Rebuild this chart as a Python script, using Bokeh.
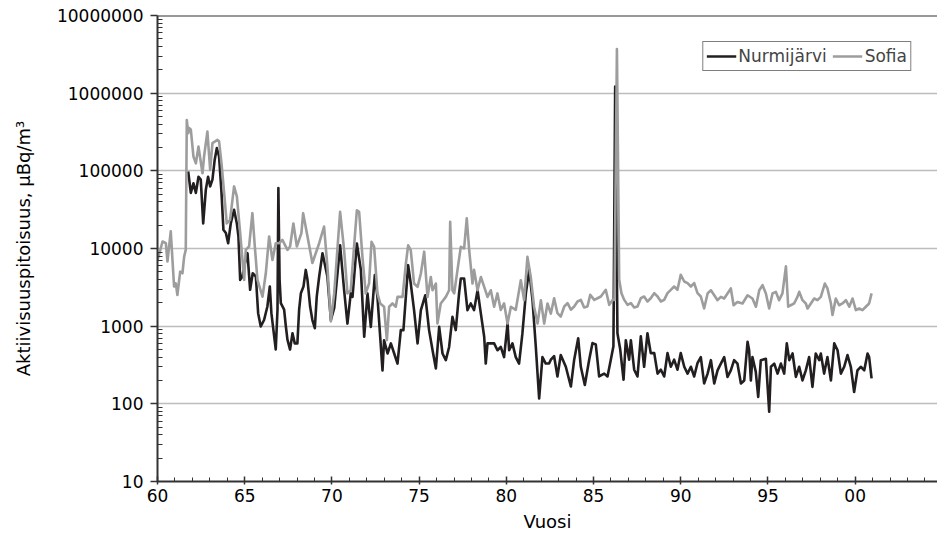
from bokeh.plotting import figure
from bokeh.models import Range1d, FixedTicker, Span, Legend, LegendItem, ColumnDataSource
from bokeh.embed import file_html
from bokeh.resources import INLINE

# ---- data (year as two-digit-based decimal year, activity in µBq/m³) ----
sofia_year = [60.0, 60.29, 60.48, 60.57, 60.76, 60.95, 61.05, 61.14, 61.30, 61.43, 61.53, 61.62, 61.68, 61.76,
              61.81, 61.91, 62.06, 62.20, 62.35, 62.58, 62.67, 62.86, 63.02, 63.15, 63.44, 63.53, 63.67, 63.82,
              63.97, 64.16, 64.39, 64.55, 64.74, 64.97, 65.06, 65.25, 65.44, 65.58, 65.73, 66.02, 66.21, 66.40,
              66.59, 66.78, 66.97, 67.16, 67.45, 67.60, 67.79, 67.99, 68.25, 68.35, 68.60, 68.88, 69.27, 69.55,
              69.74, 69.94, 70.13, 70.47, 70.70, 70.89, 71.08, 71.18, 71.43, 71.56, 71.75, 71.94, 72.13, 72.27,
              72.42, 72.61, 72.77, 72.99, 73.15, 73.28, 73.47, 73.66, 73.76, 74.05, 74.24, 74.37, 74.52, 74.71,
              74.91, 75.10, 75.29, 75.48, 75.67, 75.77, 75.96, 76.05, 76.24, 76.53, 76.72, 76.78, 76.91, 77.01,
              77.20, 77.39, 77.58, 77.73, 77.87, 78.06, 78.15, 78.35, 78.54, 78.73, 78.92, 79.11, 79.30, 79.49,
              79.68, 79.87, 80.07, 80.26, 80.54, 80.83, 81.02, 81.21, 81.40, 81.59, 81.79, 81.98, 82.17, 82.36,
              82.55, 82.74, 82.93, 83.12, 83.32, 83.51, 83.70, 83.89, 84.08, 84.27, 84.46, 84.65, 84.81, 85.04,
              85.23, 85.42, 85.70, 85.90, 86.09, 86.20, 86.34, 86.47, 86.60, 86.76, 86.95, 87.14, 87.33, 87.52,
              87.71, 87.90, 88.09, 88.28, 88.48, 88.67, 88.86, 89.05, 89.24, 89.43, 89.62, 89.81, 90.00, 90.20,
              90.39, 90.58, 90.77, 90.96, 91.15, 91.34, 91.54, 91.73, 91.92, 92.11, 92.30, 92.49, 92.68, 92.87,
              93.03, 93.25, 93.54, 93.83, 94.11, 94.31, 94.50, 94.69, 94.88, 95.07, 95.26, 95.45, 95.64, 95.83,
              96.03, 96.16, 96.31, 96.50, 96.69, 96.79, 96.98, 97.17, 97.27, 97.46, 97.65, 97.84, 98.03, 98.26,
              98.41, 98.61, 98.70, 98.89, 99.08, 99.27, 99.47, 99.66, 99.85, 100.04, 100.23, 100.42, 100.61,
              100.80, 100.94]
sofia_value = [7100, 12300, 11700, 6800, 16600, 3240, 3550, 2520, 5030, 4800, 7900, 9600, 450000, 305000,
               355000, 340000, 153000, 125000, 205000, 93000, 153000, 320000, 103000, 227000, 250000, 240000,
               125000, 52000, 21000, 23400, 63000, 47000, 15800, 3950, 9600, 10600, 28500, 10600, 3950, 2400,
               4800, 14300, 7100, 11700, 11700, 12900, 9600, 10600, 21000, 10600, 15800, 28500, 14300, 6500,
               11700, 19200, 5900, 1150, 2640, 29700, 9500, 2640, 2900, 5800, 31000, 29700, 7800, 2640, 3540,
               12200, 10500, 2640, 1960, 1780, 660, 1780, 1960, 1780, 2380, 2380, 6400, 11000, 9500, 3540, 3200,
               4760, 9100, 2380, 4300, 2900, 3540, 1080, 1960, 2380, 2900, 22000, 2900, 2640, 5300, 10500, 10000,
               24500, 9500, 3540, 5300, 2900, 4300, 3200, 2380, 2900, 1780, 2640, 1620, 1960, 1080, 1780, 1620,
               3900, 2160, 7800, 4300, 1780, 1080, 2160, 1080, 1960, 1450, 2290, 1470, 1330, 1790, 1980, 1630,
               1790, 2080, 2180, 1740, 1790, 2530, 2180, 2290, 2410, 2940, 1880, 2180, 2180, 3700000, 3950, 2660,
               2180, 1880, 1980, 1740, 1790, 2290, 2410, 2080, 2290, 2660, 2410, 2080, 2180, 2660, 2940, 3240,
               2940, 4580, 3760, 3590, 3240, 3590, 2660, 2410, 1690, 2640, 2900, 2500, 2160, 2380, 2270, 2640,
               3060, 1860, 2050, 1960, 2500, 2270, 1780, 2900, 3370, 2640, 1690, 2640, 2770, 2160, 2640, 5900,
               1780, 1860, 1960, 2380, 2770, 2160, 1960, 1690, 1960, 2270, 2160, 2380, 3540, 3060, 1960, 1390,
               2270, 1860, 1960, 2160, 1780, 2270, 1610, 1690, 1610, 1780, 1960, 2640]

nurmi_year = [61.76, 61.91, 62.06, 62.20, 62.35, 62.48, 62.62, 62.77, 62.90, 63.02, 63.15, 63.28, 63.40, 63.53,
              63.67, 63.78, 63.92, 64.05, 64.20, 64.39, 64.55, 64.64, 64.74, 64.87, 64.97, 65.16, 65.31, 65.46,
              65.64, 65.77, 65.92, 66.11, 66.30, 66.44, 66.53, 66.78, 66.88, 66.93, 67.00, 67.07, 67.26, 67.36,
              67.45, 67.60, 67.74, 67.87, 68.02, 68.12, 68.22, 68.37, 68.50, 68.60, 68.75, 68.88, 69.02, 69.13,
              69.27, 69.46, 69.74, 69.94, 70.13, 70.47, 70.70, 70.89, 71.08, 71.18, 71.43, 71.66, 71.85, 72.04,
              72.23, 72.46, 72.61, 72.90, 72.99, 73.19, 73.38, 73.57, 73.76, 73.95, 74.10, 74.37, 74.52, 74.71,
              74.91, 75.10, 75.35, 75.57, 75.77, 75.96, 76.15, 76.34, 76.53, 76.72, 76.91, 77.10, 77.29, 77.39,
              77.58, 77.77, 77.96, 78.15, 78.35, 78.54, 78.73, 78.82, 78.92, 79.11, 79.30, 79.49, 79.68, 79.87,
              80.07, 80.16, 80.35, 80.54, 80.73, 80.92, 81.12, 81.31, 81.50, 81.69, 81.88, 82.07, 82.26, 82.45,
              82.55, 82.74, 82.93, 83.12, 83.41, 83.70, 83.89, 84.12, 84.27, 84.50, 84.75, 84.94, 85.13, 85.32,
              85.61, 85.80, 85.99, 86.14, 86.24, 86.37, 86.53, 86.72, 86.85, 87.04, 87.14, 87.33, 87.52, 87.71,
              87.90, 88.09, 88.28, 88.48, 88.67, 88.86, 89.05, 89.24, 89.43, 89.62, 89.81, 90.00, 90.20, 90.39,
              90.58, 90.77, 90.96, 91.15, 91.34, 91.54, 91.73, 91.92, 92.11, 92.30, 92.49, 92.68, 92.87, 93.06,
              93.25, 93.45, 93.64, 93.83, 93.92, 94.02, 94.11, 94.30, 94.44, 94.59, 94.88, 95.07, 95.17, 95.36,
              95.55, 95.74, 95.93, 96.08, 96.22, 96.41, 96.60, 96.79, 96.98, 97.17, 97.36, 97.55, 97.74, 97.94,
              98.03, 98.22, 98.41, 98.61, 98.80, 98.99, 99.18, 99.37, 99.56, 99.75, 99.94, 100.13, 100.32,
              100.52, 100.71, 100.80, 100.94]
nurmi_value = [98000, 52000, 69000, 52000, 84000, 77000, 21000, 57000, 84000, 63000, 77000, 139000, 196000,
               153000, 52000, 17400, 15800, 11700, 21000, 31500, 21000, 14300, 3950, 4360, 5900, 8700, 2940,
               4800, 4360, 1470, 990, 1200, 1790, 3240, 1470, 500, 1630, 60000, 3950, 1980, 1630, 990, 670, 500,
               810, 600, 600, 1630, 2660, 3240, 5300, 3950, 1790, 1200, 940, 2400, 4360, 8700, 4360, 1200, 1700,
               11000, 2900, 1080, 2640, 2380, 11600, 5300, 730, 2640, 980, 4540, 2380, 270, 660, 445, 600, 445,
               330, 890, 890, 6100, 3540, 1610, 600, 1610, 2500, 890, 490, 285, 980, 445, 365, 540, 1320, 890,
               2640, 4100, 4100, 1610, 1960, 1610, 2900, 1450, 730, 330, 600, 600, 600, 490, 540, 400, 1080, 490,
               600, 400, 330, 800, 2640, 5300, 2160, 540, 117, 400, 330, 330, 370, 410, 225, 425, 300, 167, 370,
               700, 300, 175, 370, 605, 580, 225, 245, 225, 370, 550, 1220000, 810, 500, 204, 660, 370, 660, 275,
               225, 740, 300, 810, 450, 450, 245, 275, 225, 450, 300, 370, 275, 450, 300, 245, 300, 225, 335, 400,
               183, 245, 365, 183, 270, 330, 400, 222, 270, 365, 330, 183, 200, 630, 490, 200, 400, 260, 123, 365,
               380, 79, 300, 330, 245, 330, 245, 600, 365, 445, 222, 300, 200, 270, 400, 165, 445, 365, 445, 245,
               400, 200, 600, 490, 245, 300, 425, 300, 142, 270, 300, 270, 445, 400, 213]

x_ticks = [60, 65, 70, 75, 80, 85, 90, 95, 100]
x_tick_labels = ["60", "65", "70", "75", "80", "85", "90", "95", "00"]
y_ticks = [10, 100, 1000, 10000, 100000, 1000000, 10000000]
y_tick_labels = ["10", "100", "1000", "10000", "100000", "1000000", "10000000"]

FONT = "DejaVu Sans"
AXIS_COLOR = "#333333"

p = figure(width=937, height=543,
           x_range=Range1d(60, 104.72), y_range=Range1d(10, 1e7),
           y_axis_type="log", output_backend="svg", toolbar_location=None,
           min_border_left=157, min_border_right=0, min_border_top=15, min_border_bottom=62,
           background_fill_color="white", border_fill_color="white")
p.outline_line_color = None

src_n = ColumnDataSource(dict(x=nurmi_year, y=nurmi_value))
src_s = ColumnDataSource(dict(x=sofia_year, y=sofia_value))
r_n = p.line("x", "y", source=src_n, line_color="#231f20", line_width=2.6, line_join="round")
r_s = p.line("x", "y", source=src_s, line_color="#9d9d9d", line_width=2.6, line_join="round")

# x axis
p.xaxis.ticker = FixedTicker(ticks=x_ticks, minor_ticks=list(range(60, 105)))
p.xaxis.major_label_overrides = {t: l for t, l in zip(x_ticks, x_tick_labels)}
p.xaxis.axis_label = "Vuosi"
p.xaxis.major_tick_in = 5
p.xaxis.major_tick_out = 3
p.xaxis.minor_tick_in = 4
p.xaxis.minor_tick_out = 0
p.xaxis.major_label_standoff = 4
p.xaxis.axis_label_standoff = 6

# y axis
minor_y = [m * 10 ** k for k in range(1, 7) for m in range(2, 10)]
p.yaxis.ticker = FixedTicker(ticks=y_ticks, minor_ticks=minor_y)
p.yaxis.major_label_overrides = {t: l for t, l in zip(y_ticks, y_tick_labels)}
p.yaxis.axis_label = "Aktiivisuuspitoisuus, µBq/m³"
p.yaxis.major_tick_in = 0
p.yaxis.major_tick_out = 7
p.yaxis.minor_tick_in = 5
p.yaxis.minor_tick_out = 0
p.yaxis.major_label_standoff = 7
p.yaxis.axis_label_standoff = 20

for ax in (p.xaxis, p.yaxis):
    ax.axis_line_color = AXIS_COLOR
    ax.axis_line_width = 2
    ax.major_tick_line_color = AXIS_COLOR
    ax.major_tick_line_width = 1.5
    ax.minor_tick_line_color = AXIS_COLOR
    ax.minor_tick_line_width = 1
    ax.major_label_text_font = FONT
    ax.major_label_text_font_size = "17px"
    ax.major_label_text_color = "black"
    ax.axis_label_text_font = FONT
    ax.axis_label_text_font_size = "18px"
    ax.axis_label_text_font_style = "normal"
    ax.axis_label_text_color = "black"

p.xgrid.visible = False
p.ygrid.grid_line_color = "#bdbdbd"
p.ygrid.grid_line_width = 1.5

p.add_layout(Span(location=1e7, dimension="width", line_color=AXIS_COLOR, line_width=2))

legend = Legend(items=[LegendItem(label="Nurmijärvi", renderers=[r_n]),
                       LegendItem(label="Sofia", renderers=[r_s])],
                orientation="horizontal", location="top_right", margin=26,
                padding=3, spacing=6, label_standoff=2, glyph_width=30, glyph_height=22,
                border_line_color="black", border_line_width=1,
                label_text_font=FONT, label_text_font_size="17px",
                background_fill_color="white", background_fill_alpha=1)
p.add_layout(legend)

open("out.html", "w").write(file_html(p, INLINE))
